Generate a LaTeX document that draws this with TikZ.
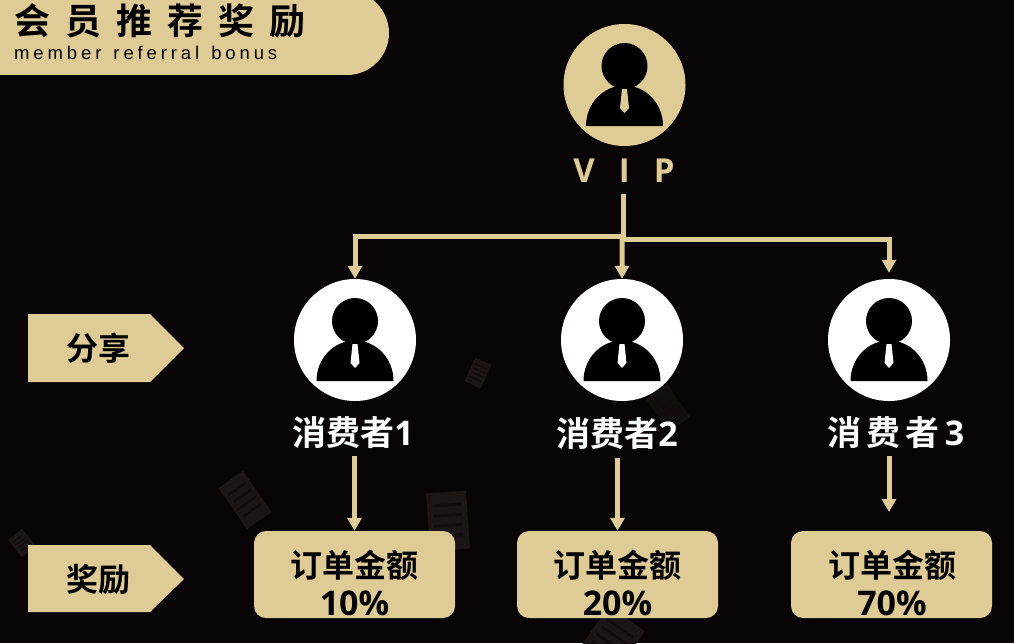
\documentclass[tikz,border=0pt]{standalone}
\usepackage{fontspec}
\newfontfamily\cjk{Noto Sans CJK SC Bold}
\newfontfamily\latinb{Open Sans}[BoldFont={Open Sans Bold}]
\setmainfont{Liberation Sans}
\usetikzlibrary{arrows.meta}
\definecolor{bgc}{HTML}{080304}
\definecolor{gold}{HTML}{DFCB96}
\definecolor{ghost}{HTML}{1B1615}
\definecolor{ghostline}{HTML}{120D0C}
\tikzset{
  x=1pt,y=-1pt,
  circlenode/.style={circle,minimum size=122pt,inner sep=0pt,fill=#1},
  labeltext/.style={inner sep=0pt,text=#1,font=\fontsize{34}{34}\selectfont\cjk,minimum height=36pt},
  boxnode/.style={rectangle,rounded corners=12pt,fill=gold,minimum width=201pt,minimum height=87pt,inner sep=0pt,text=black},
  conn/.style={draw=gold,line width=5pt},
  arrowconn/.style={conn,-{Triangle[length=13pt,width=14pt,fill=gold]}},
  pics/person/.style={code={
    \fill[black] (0,-19) circle[radius=23];
    \fill[black] (-38.5,41) .. controls (-38.5,18.5) and (-21.25,0.5) .. (0,0.5) .. controls (21.25,0.5) and (38.5,18.5) .. (38.5,41) -- cycle;
    \fill[#1] (-2.5,4) -- (2.5,4) -- (4.5,23) -- (0,28) -- (-4.5,23) -- cycle;
  }},
  pics/paper/.style={code={
    \fill[ghost] (-1,-1) rectangle (1,1);
    \foreach \yy in {-0.55,-0.2,0.15,0.5}{\fill[ghostline] (-0.72,\yy-0.05) rectangle (0.72,\yy+0.05);}
  }}
}
\newcommand{\bigcn}[1]{{\fontsize{32}{32}\selectfont\cjk #1}}
\newcommand{\bigpc}[1]{{\fontsize{34}{34}\selectfont\latinb\bfseries #1}}
\begin{document}
\begin{tikzpicture}
\useasboundingbox (0,0) rectangle (1014,643);
\fill[bgc] (0,0) rectangle (1014,643);

% faint background papers
\pic[rotate=35,xscale=15,yscale=25] at (245,500) {paper};
\pic[rotate=4,xscale=20,yscale=29] at (448,521) {paper};
\pic[rotate=38,xscale=9,yscale=11] at (22,543) {paper};
\pic[rotate=-25,xscale=9,yscale=13] at (478,373) {paper};
\pic[rotate=35,xscale=13,yscale=20,opacity=.6] at (668,408) {paper};
\pic[rotate=-35,xscale=22,yscale=26] at (612,640) {paper};

% title banner
\fill[gold] (-5,-9) rectangle (347,75);
\fill[gold] (347,33) circle[radius=42];
\node[inner sep=0pt,anchor=base west,text=black] (title) at (14,34)
  {\fontsize{36}{36}\selectfont\cjk 会\hspace{15pt}员\hspace{15pt}推\hspace{15pt}荐\hspace{15pt}奖\hspace{15pt}励};
\node[inner sep=0pt,anchor=base west,text=black] (subtitle) at (14,59)
  {\addfontfeatures{LetterSpace=21}\fontsize{18.5}{18.5}\selectfont member\hspace{3pt} referral\hspace{3pt} bonus};

% side pentagons
\fill[gold] (28,314) -- (150,314) -- (184,348) -- (150,382) -- (28,382) -- cycle;
\node[inner sep=0pt,text=black] (share) at (98,348) {\bigcn{分享}};
\fill[gold] (28,545) -- (150,545) -- (184,579) -- (150,612) -- (28,612) -- cycle;
\node[inner sep=0pt,text=black] (reward) at (98,579) {\bigcn{奖励}};

% circles with person icons
\node[circlenode=gold] (vip) at (624.5,85) {};
\pic at (624.5,85) {person=gold};
\node[circlenode=white] (c1) at (355,340) {};
\pic at (355,340) {person=white};
\node[circlenode=white] (c2) at (622,340) {};
\pic at (622,340) {person=white};
\node[circlenode=white] (c3) at (889,340) {};
\pic at (889,340) {person=white};

% labels
\node[inner sep=0pt,text=gold,font=\fontsize{33}{33}\selectfont\latinb\bfseries,minimum height=44pt] (viplabel) at (624,171)
  {V\hspace{24pt}I\hspace{24pt}P};
\node[labeltext=white] (l1) at (353,433) {消费者{\latinb\bfseries 1}};
\node[labeltext=white] (l2) at (617,434) {消费者{\latinb\bfseries 2}};
\node[labeltext=white] (l3) at (896,433) {消\hspace{5pt}费\hspace{5pt}者\hspace{5pt}{\latinb\bfseries 3}};

% boxes
\node[boxnode] (b1) at (354.5,574.5) {};
\node[inner sep=0pt,text=black] (t1) at (354.5,565) {\bigcn{订单金额}};
\node[inner sep=0pt,text=black] (p1) at (354.5,603) {\bigpc{10\%}};
\node[boxnode] (b2) at (617.5,574.5) {};
\node[inner sep=0pt,text=black] (t2) at (617.5,565) {\bigcn{订单金额}};
\node[inner sep=0pt,text=black] (p2) at (617.5,603) {\bigpc{20\%}};
\node[boxnode] (b3) at (891.5,574.5) {};
\node[inner sep=0pt,text=black] (t3) at (892,565) {\bigcn{订单金额}};
\node[inner sep=0pt,text=black] (p3) at (892,603) {\bigpc{70\%}};

% connectors
\coordinate (end3) at (889,512);
\coordinate (j1) at (623,236);
\coordinate (j3) at (623,239);
\draw[conn] (viplabel.south -| j1) ++(0,1) -- (j3);
\draw[arrowconn] (j1) -- (355,236) -- (c1.north);
\draw[arrowconn] (j3) -- (889,239) -- ([yshift=6pt]c3.north);
\draw[arrowconn] (j1) -- (622,240) -- (c2.north);
\draw[arrowconn] (l1.south -| b1.south) ++(0,5) -- (b1.north);
\draw[arrowconn] (l2.south -| b2.south) ++(0,6) -- (b2.north);
\draw[arrowconn] (l3.south -| c3.south) ++(0,5) -- (end3);
\end{tikzpicture}
\end{document}
